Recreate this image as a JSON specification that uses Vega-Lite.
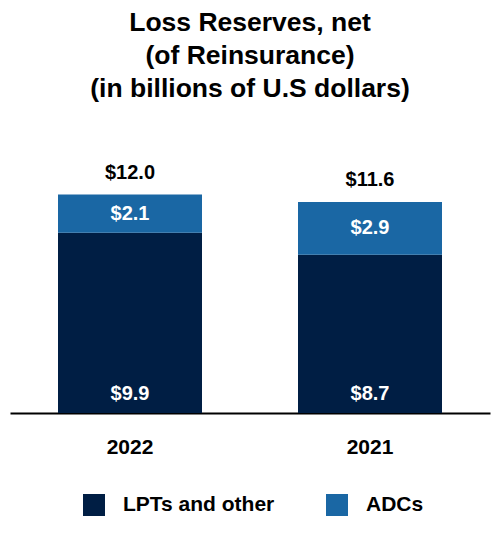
{
  "$schema": "https://vega.github.io/schema/vega-lite/v6.json",
  "width": 480,
  "height": 273,
  "autosize": {"type": "none"},
  "padding": {"top": 140, "left": 10, "right": 10, "bottom": 121},
  "background": "white",
  "title": {
    "text": ["Loss Reserves, net", "(of Reinsurance)", "(in billions of U.S dollars)"],
    "font": "Liberation Sans",
    "fontSize": 26.5,
    "fontWeight": "bold",
    "color": "black",
    "anchor": "middle",
    "lineHeight": 33,
    "offset": 38
  },
  "data": {
    "values": [
      {"year": "2022", "category": "LPTs and other", "value": 9.9},
      {"year": "2022", "category": "ADCs", "value": 2.1},
      {"year": "2021", "category": "LPTs and other", "value": 8.7},
      {"year": "2021", "category": "ADCs", "value": 2.9}
    ]
  },
  "transform": [
    {"stack": "value", "groupby": ["year"], "sort": [{"field": "category", "order": "descending"}], "as": ["y0", "y1"]}
  ],
  "encoding": {
    "x": {
      "field": "year", "type": "nominal", "sort": ["2022", "2021"],
      "scale": {"paddingInner": 0, "paddingOuter": 0},
      "axis": {
        "title": null, "labelAngle": 0, "ticks": false, "domainColor": "black", "domainWidth": 2,
        "labelFont": "Liberation Sans", "labelFontSize": 21, "labelFontWeight": "bold", "labelColor": "black",
        "labelPadding": 23
      }
    }
  },
  "layer": [
    {
      "mark": {"type": "bar", "width": {"band": 0.6}},
      "encoding": {
        "y": {"field": "y0", "type": "quantitative", "scale": {"domain": [0, 15], "nice": false, "zero": true}, "axis": null},
        "y2": {"field": "y1"},
        "color": {
          "field": "category", "type": "nominal",
          "scale": {"domain": ["LPTs and other", "ADCs"], "range": ["#001e44", "#1a67a4"]},
          "legend": {
            "title": null, "orient": "none", "direction": "horizontal", "legendX": 73, "legendY": 354,
            "symbolType": "square", "symbolSize": 484, "symbolStrokeWidth": 0,
            "labelFont": "Liberation Sans", "labelFontSize": 21, "labelFontWeight": "bold", "labelColor": "black",
            "labelOffset": 18, "columnPadding": 51
          }
        }
      }
    },
    {
      "transform": [
        {"filter": "datum.category === 'ADCs'"},
        {"fold": ["y0", "y1"], "as": ["k", "v"]}
      ],
      "mark": {"type": "text", "font": "Liberation Sans", "fontSize": 20, "fontWeight": "bold", "color": "white", "baseline": "middle"},
      "encoding": {
        "y": {"field": "v", "aggregate": "mean", "type": "quantitative"},
        "text": {"field": "value", "type": "quantitative", "format": "$.1f"}
      }
    },
    {
      "transform": [{"filter": "datum.category === 'LPTs and other'"}],
      "mark": {"type": "text", "font": "Liberation Sans", "fontSize": 20, "fontWeight": "bold", "color": "white", "baseline": "middle", "dy": -19},
      "encoding": {
        "y": {"field": "y0", "type": "quantitative"},
        "text": {"field": "value", "type": "quantitative", "format": "$.1f"}
      }
    },
    {
      "transform": [{"filter": "datum.category === 'ADCs'"}],
      "mark": {"type": "text", "font": "Liberation Sans", "fontSize": 20, "fontWeight": "bold", "color": "black", "baseline": "middle", "dy": -22},
      "encoding": {
        "y": {"field": "y1", "type": "quantitative"},
        "text": {"field": "y1", "type": "quantitative", "format": "$.1f"}
      }
    }
  ],
  "config": {"view": {"stroke": null}}
}
